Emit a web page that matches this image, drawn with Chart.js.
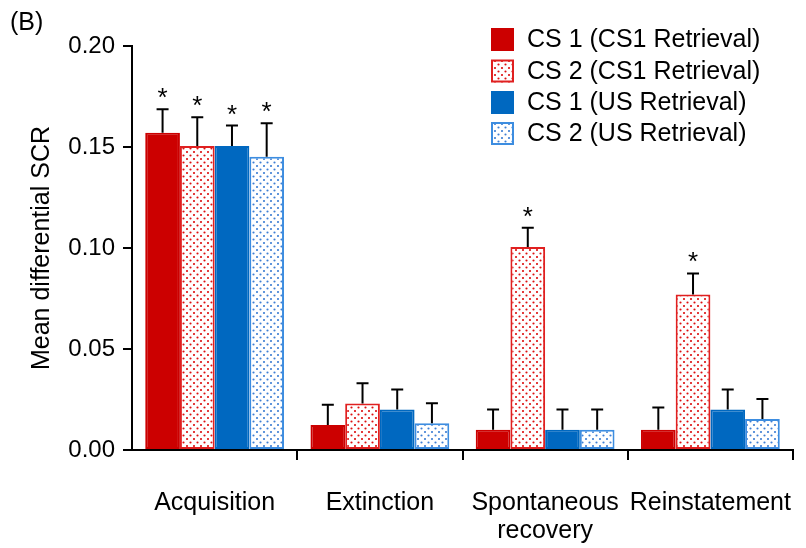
<!DOCTYPE html>
<html>
<head>
<meta charset="utf-8">
<script src="https://cdn.jsdelivr.net/npm/chart.js@4.4.0/dist/chart.umd.min.js"></script>
<style>
  html, body { margin: 0; padding: 0; background: #fff; }
  #wrap { width: 806px; height: 548px; }
</style>
</head>
<body>
<div id="wrap"><canvas id="chart1"></canvas></div>
<script>
// data
var categories = ['Acquisition', 'Extinction', ['Spontaneous', 'recovery'], 'Reinstatement']
var seriesNames = ['CS 1 (CS1 Retrieval)', 'CS 2 (CS1 Retrieval)', 'CS 1 (US Retrieval)', 'CS 2 (US Retrieval)']

var cs1Cs1Ret = [0.157, 0.0124, 0.010, 0.010]
var cs2Cs1Ret = [0.1505, 0.023, 0.1005, 0.077]
var cs1UsRet  = [0.1505, 0.020, 0.010, 0.020]
var cs2UsRet  = [0.1452, 0.0132, 0.010, 0.0153]

// error bars (SEM, upper half only)
var cs1Cs1RetErr = [0.0117, 0.010, 0.010, 0.011]
var cs2Cs1RetErr = [0.0142, 0.010, 0.0095, 0.0104]
var cs1UsRetErr  = [0.0101, 0.010, 0.010, 0.010]
var cs2UsRetErr  = [0.0165, 0.010, 0.010, 0.010]

// asterisks
var cs1Cs1RetStar = [true, false, false, false]
var cs2Cs1RetStar = [true, false, true, true]
var cs1UsRetStar  = [true, false, false, false]
var cs2UsRetStar  = [true, false, false, false]

var yTicks = [0, 0.05, 0.10, 0.15, 0.20]

var RED = '#cc0000'
var BLUE = '#0068c0'
var LIGHTBLUE = '#3d8de0'
var FONT = "'Liberation Sans', Arial, sans-serif"

function dotPattern(color){
  var c = document.createElement('canvas')
  c.width = 7; c.height = 7
  var g = c.getContext('2d')
  g.fillStyle = '#fff'
  g.fillRect(0, 0, 7, 7)
  g.fillStyle = color
  g.beginPath()
  g.arc(1.5, 1.5, 1.1, 0, Math.PI * 2)
  g.arc(5, 5, 1.1, 0, Math.PI * 2)
  g.fill()
  return g.createPattern(c, 'repeat')
}

var ctx = document.getElementById('chart1').getContext('2d')

var datasets = [
  { label: seriesNames[0], data: [...cs1Cs1Ret], err: cs1Cs1RetErr, star: cs1Cs1RetStar,
    backgroundColor: RED, borderColor: RED },
  { label: seriesNames[1], data: [...cs2Cs1Ret], err: cs2Cs1RetErr, star: cs2Cs1RetStar,
    backgroundColor: dotPattern('#dd1111'), borderColor: '#e02020' },
  { label: seriesNames[2], data: [...cs1UsRet], err: cs1UsRetErr, star: cs1UsRetStar,
    backgroundColor: BLUE, borderColor: BLUE },
  { label: seriesNames[3], data: [...cs2UsRet], err: cs2UsRetErr, star: cs2UsRetStar,
    backgroundColor: dotPattern('#3f7fd4'), borderColor: LIGHTBLUE }
]
datasets.forEach(function(d){
  d.borderWidth = 2
  d.borderSkipped = false
  d.categoryPercentage = 0.84
  d.barPercentage = 1.0
})

// error bars + asterisks
var errorBars = {
  id: 'errorBars',
  afterDatasetsDraw: function(chart){
    var c = chart.ctx
    var y = chart.scales.y
    c.save()
    c.strokeStyle = '#000'
    c.lineWidth = 2
    c.fillStyle = '#000'
    c.font = '26px ' + FONT
    c.textAlign = 'center'
    c.textBaseline = 'alphabetic'
    chart.data.datasets.forEach(function(ds, i){
      var meta = chart.getDatasetMeta(i)
      meta.data.forEach(function(bar, j){
        var top = y.getPixelForValue(ds.data[j] + ds.err[j])
        c.beginPath()
        c.moveTo(bar.x, bar.y)
        c.lineTo(bar.x, top)
        c.moveTo(bar.x - 6, top)
        c.lineTo(bar.x + 6, top)
        c.stroke()
        if(ds.star[j]){
          c.fillText('*', bar.x, top - 3)
        }
      })
    })
    c.restore()
  }
}

// legend in the top right corner + panel letter
var sideLegend = {
  id: 'sideLegend',
  afterDraw: function(chart){
    var c = chart.ctx
    c.save()
    c.font = '25px ' + FONT
    c.fillStyle = '#000'
    c.textBaseline = 'middle'
    c.textAlign = 'left'
    c.fillText('(B)', 10, 23)
    var rows = [39.5, 71, 102.5, 133.5]
    chart.data.datasets.forEach(function(ds, i){
      var cy = rows[i]
      c.fillStyle = ds.backgroundColor
      c.fillRect(491, cy - 11.5, 23, 23)
      c.strokeStyle = ds.borderColor
      c.lineWidth = 2
      c.strokeRect(492, cy - 10.5, 21, 21)
      c.fillStyle = '#000'
      c.fillText(ds.label, 527, cy + 1)
    })
    c.restore()
  }
}

Chart.defaults.font.family = FONT
Chart.defaults.color = '#000'

var chart1 = new Chart(ctx, {
  type: 'bar',
  data: { labels: categories, datasets: datasets },
  options: {
    responsive: true,
    maintainAspectRatio: false,
    animation: false,
    devicePixelRatio: 1,
    layout: { padding: { left: 0, right: 13, top: 46, bottom: 0 } },
    plugins: { legend: { display: false }, tooltip: { enabled: false } },
    scales: {
      x: {
        offset: true,
        grid: {
          display: true, drawOnChartArea: false, offset: true, tickLength: 10, lineWidth: 2,
          color: function(c){ return c.index === 0 ? 'rgba(0,0,0,0)' : '#000' }
        },
        border: { display: true, color: '#000', width: 2 },
        ticks: { color: '#000', font: { size: 25, lineHeight: 1.12 }, padding: 29, maxRotation: 0, autoSkip: false },
        afterFit: function(s){ s.height = 98; s.paddingLeft = 0; s.paddingRight = 0 }
      },
      y: {
        min: 0,
        max: 0.2,
        afterBuildTicks: function(s){ s.ticks = yTicks.map(function(v){ return { value: v } }) },
        grid: { display: true, drawOnChartArea: false, tickLength: 9, lineWidth: 2, color: '#000' },
        border: { display: true, color: '#000', width: 2 },
        ticks: { color: '#000', font: { size: 24 }, padding: 8, callback: function(v){ return v.toFixed(2) } },
        title: { display: true, text: 'Mean differential SCR', color: '#000', font: { size: 25 }, padding: { top: 27, bottom: 0 } },
        afterFit: function(s){ s.width = 132; s.paddingTop = 0; s.paddingBottom = 0 }
      }
    }
  },
  plugins: [errorBars, sideLegend]
})
</script>
</body>
</html>
